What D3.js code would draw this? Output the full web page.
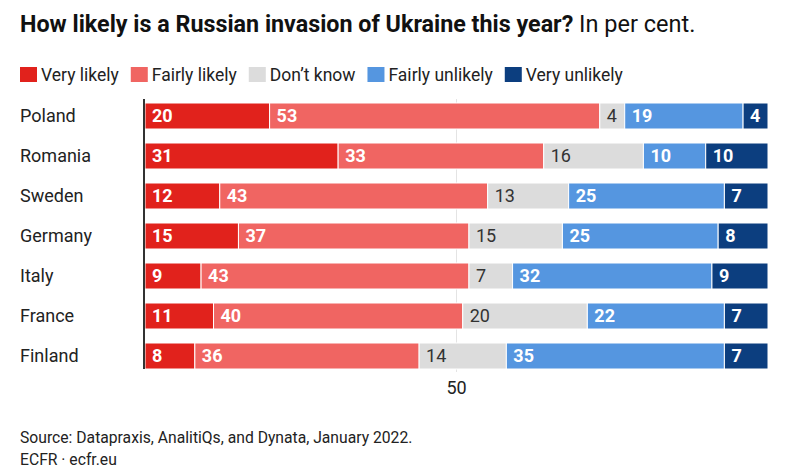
<!DOCTYPE html>
<html lang="en">
<head>
  <meta charset="utf-8">
  <title>How likely is a Russian invasion of Ukraine this year?</title>
  <script src="https://d3js.org/d3.v7.min.js"></script>
  <style type="text/css">
    body { margin: 0; background: #fff; }
    #chart text { font-family: Roboto, "DejaVu Sans Condensed", sans-serif; }
  </style>
</head>
<body>
<div id="chart"></div>
<script>
  // data
  const countries = ["Poland", "Romania", "Sweden", "Germany", "Italy", "France", "Finland"]
  const answers = ["Very likely", "Fairly likely", "Don\u2019t know", "Fairly unlikely", "Very unlikely"]
  const veryLikely     = [20, 31, 12, 15,  9, 11,  8]
  const fairlyLikely   = [53, 33, 43, 37, 43, 40, 36]
  const dontKnow       = [ 4, 16, 13, 15,  7, 20, 14]
  const fairlyUnlikely = [19, 10, 25, 25, 32, 22, 35]
  const veryUnlikely   = [ 4, 10,  7,  8,  9,  7,  7]
  const xTicks = [50]

  const colors = ["#e1221c", "#f06562", "#dcdcdc", "#5596e0", "#0c3e7f"]
  const labelColors = ["#fff", "#fff", "#333", "#fff", "#fff"]

  const width = 785, height = 471
  const series = [veryLikely, fairlyLikely, dontKnow, fairlyUnlikely, veryUnlikely]

  const rows = countries.map((c, i) => {
    const r = { country: c }
    answers.forEach((a, k) => r[a] = series[k][i])
    return r
  })
  const stacked = d3.stack().keys(answers)(rows)

  const x = d3.scaleLinear().domain([0, 100]).range([145, 768])
  const y = d3.scaleBand().domain(countries).range([96, 376])
              .paddingInner(0.35).paddingOuter(0.175)

  const svg = d3.select("#chart").append("svg")
                .attr("width", width).attr("height", height)

  // title
  const title = svg.append("text").attr("x", 20).attr("y", 32)
  title.append("tspan").text("How likely is a Russian invasion of Ukraine this year?")
       .attr("font-weight", "bold").attr("font-size", "23.3px").attr("fill", "#111")
  title.append("tspan").text(" In per cent.")
       .attr("font-size", "23.5px").attr("fill", "#111")

  // legend
  const legend = svg.append("g")
  let lx = 20
  answers.forEach((a, k) => {
    legend.append("rect").attr("x", lx).attr("y", 67).attr("width", 17).attr("height", 15)
          .attr("fill", colors[k])
    const t = legend.append("text").attr("x", lx + 21).attr("y", 81)
                    .attr("font-size", "17.5px").attr("fill", "#222").text(a)
    lx += 21 + t.node().getComputedTextLength() + 12
  })

  // gridline at 50
  svg.append("g").selectAll("line").data(xTicks).join("line")
     .attr("x1", d => x(d)).attr("x2", d => x(d))
     .attr("y1", 99).attr("y2", 372)
     .attr("stroke", "#e4e4e4").attr("stroke-width", 1)

  // bars
  const layer = svg.append("g").selectAll("g").data(stacked).join("g")
                   .attr("fill", (d, k) => colors[k])
  layer.selectAll("rect").data(d => d).join("rect")
       .attr("x", d => x(d[0]))
       .attr("y", d => y(d.data.country))
       .attr("width", d => x(d[1]) - x(d[0]))
       .attr("height", y.bandwidth())
       .attr("stroke", "#fff").attr("stroke-width", 1)

  // value labels
  stacked.forEach((s, k) => {
    svg.append("g").selectAll("text").data(s).join("text")
       .attr("x", d => x(d[0]) + 7)
       .attr("y", d => y(d.data.country) + y.bandwidth() / 2)
       .attr("dy", "0.36em")
       .attr("font-size", "18px")
       .attr("font-weight", k === 2 ? "normal" : "bold")
       .attr("fill", labelColors[k])
       .text(d => d[1] - d[0])
  })

  // country labels
  svg.append("g").selectAll("text").data(countries).join("text")
     .attr("x", 20).attr("y", d => y(d) + y.bandwidth() / 2).attr("dy", "0.36em")
     .attr("font-size", "18px").attr("fill", "#222").text(d => d)

  // left axis line
  svg.append("line").attr("x1", 144).attr("x2", 144).attr("y1", 99).attr("y2", 369)
     .attr("stroke", "#333").attr("stroke-width", 2)

  // x tick label
  svg.append("g").selectAll("text").data(xTicks).join("text")
     .attr("x", d => x(d)).attr("y", 394).attr("text-anchor", "middle")
     .attr("font-size", "18px").attr("fill", "#222").text(d => d)

  // footer
  svg.append("text").attr("x", 20).attr("y", 443).attr("font-size", "15.7px").attr("fill", "#222")
     .text("Source: Datapraxis, AnalitiQs, and Dynata, January 2022.")
  svg.append("text").attr("x", 20).attr("y", 465).attr("font-size", "15.7px").attr("fill", "#222")
     .text("ECFR \u00b7 ecfr.eu")
</script>
</body>
</html>
